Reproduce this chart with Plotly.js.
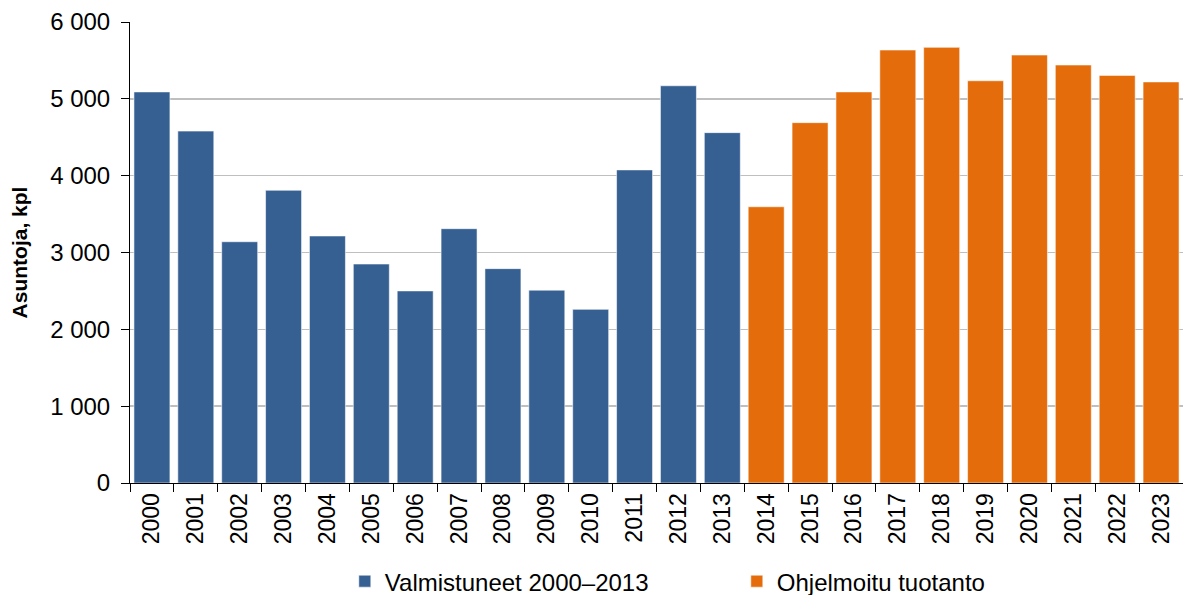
<!DOCTYPE html>
<html><head><meta charset="utf-8">
<script src="https://cdn.plot.ly/plotly-3.0.1.min.js"></script>
<style>html,body{margin:0;padding:0;background:#fff}#chart{width:1183px;height:595px}</style>
</head><body><div id="chart"></div>
<script>
const yearsDone = ["2000","2001","2002","2003","2004","2005","2006","2007","2008","2009","2010","2011","2012","2013"];
const valuesDone = [5090,4580,3140,3810,3215,2850,2500,3310,2790,2510,2260,4075,5170,4560];
const yearsPlan = ["2014","2015","2016","2017","2018","2019","2020","2021","2022","2023"];
const valuesPlan = [3595,4690,5090,5635,5670,5235,5570,5440,5305,5220];
const allYears = yearsDone.concat(yearsPlan);
const yTicks = [0,1000,2000,3000,4000,5000,6000];

const traces = [
  {type:'bar', name:'Valmistuneet 2000–2013', x:yearsDone, y:valuesDone,
   marker:{color:'#376092', line:{color:'rgba(255,255,255,0.55)', width:1}}, width:0.82},
  {type:'bar', name:'Ohjelmoitu tuotanto', x:yearsPlan, y:valuesPlan,
   marker:{color:'#E46C0A', line:{color:'rgba(255,255,255,0.55)', width:1}}, width:0.82}
];
const layout = {
  width:1183, height:595,
  margin:{l:130, r:0, t:22, b:112, autoexpand:false},
  paper_bgcolor:'#fff', plot_bgcolor:'#fff',
  separators:', ',
  font:{family:'Liberation Sans, Arial, sans-serif', size:22, color:'#000'},
  barmode:'overlay',
  showlegend:true,
  legend:{orientation:'h', x:0.204, xanchor:'left', y:-0.165, yanchor:'top',
          entrywidth:347, entrywidthmode:'pixels', font:{size:24}, traceorder:'normal',
          itemwidth:30},
  xaxis:{type:'category', categoryorder:'array', categoryarray:allYears,
         range:[-0.5, allYears.length-0.5], automargin:false,
         tickangle:-90, ticks:'outside', tickson:'boundaries', ticklen:8, tickcolor:'#000',
         showline:true, linecolor:'#000', linewidth:1, showgrid:false, tickfont:{size:23}},
  yaxis:{range:[0,6000], tickvals:yTicks, tickformat:',d', ticks:'outside', ticklen:8,
         tickcolor:'#000', showline:true, linecolor:'#000', linewidth:1, automargin:false,
         ticklabelstandoff:6,
         gridcolor:'#bfbfbf', gridwidth:1.4, zeroline:false, tickfont:{size:24},
         title:{text:'<b>Asuntoja, kpl</b>', font:{size:21}, standoff:16}}
};
Plotly.newPlot('chart', traces, layout, {displayModeBar:false, staticPlot:true});
</script></body></html>
